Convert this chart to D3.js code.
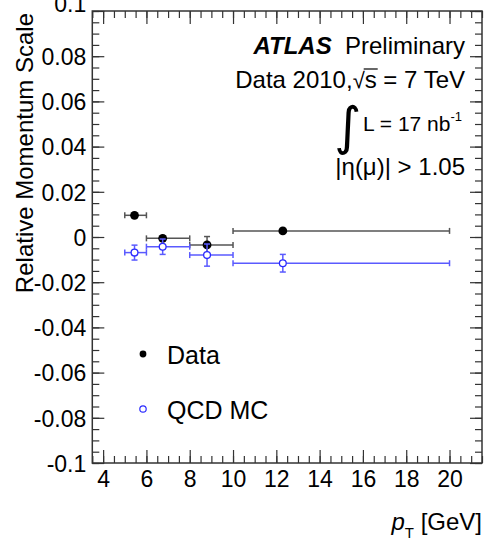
<!DOCTYPE html>
<meta charset="utf-8">
<script src="https://d3js.org/d3.v7.min.js"></script>
<style>
body { margin: 0; background: #fff; }
text { font-family: "Liberation Sans", Arial, sans-serif; fill: #000; }
.frame { fill: none; stroke: #333; stroke-width: 1.5px; }
.tick line { stroke: #333; stroke-width: 1.2px; }
.domain { display: none; }
</style>
<body>
<script>

// bins in pT and measured relative momentum scale
var ptCenter = [5.45, 6.75, 8.8, 12.3];
var ptLow    = [5, 6, 8, 10];
var ptHigh   = [6, 8, 10, 20];
var dataScale = [0.0096, -0.0006, -0.0035, 0.0027];
var dataErr   = [0.0008, 0.001, 0.0037, 0.0008];
var mcScale   = [-0.0069, -0.0043, -0.008, -0.0116];
var mcErr     = [0.0033, 0.0034, 0.0049, 0.0039];

var xMajor = [4, 6, 8, 10, 12, 14, 16, 18, 20];
var yMajor = [-0.1, -0.08, -0.06, -0.04, -0.02, 0, 0.02, 0.04, 0.06, 0.08, 0.1];

var width = 485, height = 541;
var padL = 92.3, padR = 482, padT = 11, padB = 463;

var svg = d3.select("body").append("svg")
    .attr("width", width)
    .attr("height", height);

var x = d3.scaleLinear().domain([3.5, 21.5]).range([padL, padR]);
var y = d3.scaleLinear().domain([-0.1, 0.1]).range([padB, padT]);

var xMinor = d3.range(7, 44).map(function(i) { return i / 2; });
var yMinor = d3.range(-20, 21).map(function(i) { return i * 0.005; });

function fmt(d) { return d === 0 ? "0" : String(+d.toFixed(2)); }

// minor ticks (all four sides)
svg.append("g").attr("transform", "translate(0," + padB + ")")
   .call(d3.axisBottom(x).tickValues(xMinor).tickSize(-7).tickFormat(""));
svg.append("g").attr("transform", "translate(0," + padT + ")")
   .call(d3.axisTop(x).tickValues(xMinor).tickSize(-7).tickFormat(""));
svg.append("g").attr("transform", "translate(" + padL + ",0)")
   .call(d3.axisLeft(y).tickValues(yMinor).tickSize(-7).tickFormat(""));
svg.append("g").attr("transform", "translate(" + padR + ",0)")
   .call(d3.axisRight(y).tickValues(yMinor).tickSize(-7).tickFormat(""));

// major ticks with labels
var xAxis = svg.append("g").attr("transform", "translate(0," + padB + ")")
   .call(d3.axisBottom(x).tickValues(xMajor).tickSize(-13).tickPadding(8).tickFormat(d3.format("d")));
xAxis.selectAll("text").style("font-size", "23px");

var yAxis = svg.append("g").attr("transform", "translate(" + padL + ",0)")
   .call(d3.axisLeft(y).tickValues(yMajor).tickSize(-12).tickPadding(6).tickFormat(fmt));
yAxis.selectAll("text").style("font-size", "23px")
   .attr("dy", function(d) { return d === 0.1 ? "0.0em" : "0.36em"; });

svg.append("g").attr("transform", "translate(0," + padT + ")")
   .call(d3.axisTop(x).tickValues(xMajor).tickSize(-13).tickFormat(""));
svg.append("g").attr("transform", "translate(" + padR + ",0)")
   .call(d3.axisRight(y).tickValues(yMajor).tickSize(-12).tickFormat(""));

svg.append("rect").attr("class", "frame")
   .attr("x", padL).attr("y", padT)
   .attr("width", padR - padL).attr("height", padB - padT);

// axis titles
svg.append("text")
   .attr("transform", "translate(33,13) rotate(-90)")
   .attr("text-anchor", "end")
   .style("font-size", "24px")
   .text("Relative Momentum Scale");

var xt = svg.append("text")
   .attr("x", 482).attr("y", 530)
   .attr("text-anchor", "end")
   .style("font-size", "24px");
xt.append("tspan").style("font-style", "italic").text("p");
xt.append("tspan").attr("dy", 8).style("font-size", "15px").text("T");
xt.append("tspan").attr("dy", -8).text(" [GeV]");

// error bars + markers
function drawSeries(vals, errs, color, filled) {
  var g = svg.append("g");
  ptCenter.forEach(function(p, i) {
    var cy = y(vals[i]);
    // horizontal bar with end caps
    g.append("line").attr("x1", x(ptLow[i])).attr("x2", x(ptHigh[i]))
      .attr("y1", cy).attr("y2", cy)
      .attr("stroke", color).attr("stroke-width", 1.5);
    [ptLow[i], ptHigh[i]].forEach(function(e) {
      g.append("line").attr("x1", x(e)).attr("x2", x(e))
        .attr("y1", cy - 3).attr("y2", cy + 3)
        .attr("stroke", color).attr("stroke-width", 1.5);
    });
    // vertical bar with caps
    var y1 = y(vals[i] + errs[i]), y2 = y(vals[i] - errs[i]);
    g.append("line").attr("x1", x(p)).attr("x2", x(p))
      .attr("y1", y1).attr("y2", y2)
      .attr("stroke", color).attr("stroke-width", 1.5);
    [y1, y2].forEach(function(yy) {
      g.append("line").attr("x1", x(p) - 3).attr("x2", x(p) + 3)
        .attr("y1", yy).attr("y2", yy)
        .attr("stroke", color).attr("stroke-width", 1.5);
    });
  });
  g.selectAll("circle").data(ptCenter).enter().append("circle")
    .attr("cx", function(d) { return x(d); })
    .attr("cy", function(d, i) { return y(vals[i]); })
    .attr("r", filled ? 4.4 : 3.4)
    .attr("fill", filled ? "#000" : "#fff")
    .attr("stroke", filled ? "#000" : "#2b2bff")
    .attr("stroke-width", filled ? 0 : 1.3);
}

drawSeries(dataScale, dataErr, "#555", true);
drawSeries(mcScale, mcErr, "#5a5aff", false);

// ATLAS label block
var lab = svg.append("text").attr("x", 465).attr("y", 54)
   .attr("text-anchor", "end").style("font-size", "24px");
lab.append("tspan").style("font-weight", "bold").style("font-style", "italic").text("ATLAS");
lab.append("tspan").text("\u00A0 Preliminary");

var d2 = svg.append("text").attr("x", 465).attr("y", 88)
   .attr("text-anchor", "end").style("font-size", "24px");
d2.append("tspan").text("Data 2010,");
d2.append("tspan").text("\u221A").style("font-size", "22px");
d2.append("tspan").text("s");
d2.append("tspan").text(" = 7 TeV");
// overline on s
var sNode = d2.node();
var si = sNode.textContent.indexOf("\u221As") + 1;
var s0 = sNode.getStartPositionOfChar(si), s1 = sNode.getEndPositionOfChar(si);
svg.append("line").attr("x1", s0.x - 1).attr("x2", s1.x + 1)
   .attr("y1", 88 - 19).attr("y2", 88 - 19)
   .attr("stroke", "#000").attr("stroke-width", 1.2);

var li = svg.append("text").attr("x", 462).attr("y", 131)
   .attr("text-anchor", "end").style("font-size", "21px");
li.append("tspan").text("L = 17 nb");
li.append("tspan").attr("dy", -10).style("font-size", "13px").text("-1");
svg.append("text").attr("x", 334).attr("y", 144)
   .style("font-size", "52px")
   .style("font-family", "DejaVu Sans")
   .text("\u222B");

svg.append("text").attr("x", 465).attr("y", 175)
   .attr("text-anchor", "end").style("font-size", "24px")
   .text("|\u03B7(\u03BC)| > 1.05");

// legend
svg.append("circle").attr("cx", 143).attr("cy", 354).attr("r", 3.4).attr("fill", "#000");
svg.append("text").attr("x", 167).attr("y", 364).style("font-size", "25px").text("Data");
svg.append("circle").attr("cx", 143).attr("cy", 409).attr("r", 3.2)
   .attr("fill", "#fff").attr("stroke", "#2b2bff").attr("stroke-width", 1.2);
svg.append("text").attr("x", 167).attr("y", 419).style("font-size", "25px").text("QCD MC");

</script>
</body>
